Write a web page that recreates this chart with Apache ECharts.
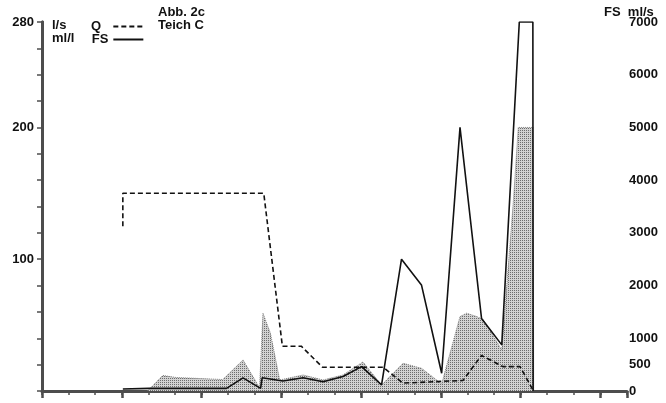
<!DOCTYPE html>
<html>
<head>
<meta charset="utf-8">
<title>Abb. 2c – Teich C</title>
<script src="https://cdn.jsdelivr.net/npm/echarts@6/dist/echarts.min.js"></script>
<style>
  html, body { margin: 0; padding: 0; background: #fff; }
  #chart { width: 666px; height: 403px; }
</style>
</head>
<body>
<div id="chart"></div>
<script>
// Abfluss Q (l/s), linke Achse – [Zeitpunkt, Wert]
const qFlow = [
  [3.04, 125], [3.04, 150], [8.34, 150], [9.04, 34], [9.75, 34],
  [10.55, 18], [12.83, 18], [13.57, 6], [15.83, 8], [16.53, 27],
  [17.33, 18.5], [17.98, 18.5], [18.47, 0.5]
];

// Feststoffe FS (ml/l), linke Achse
const fsConc = [
  [3.04, 1.5], [4.04, 2], [6.94, 2], [7.56, 10], [8.22, 2], [8.28, 10],
  [9.06, 7.6], [9.82, 10], [10.57, 7], [11.32, 11], [12.02, 18.5],
  [12.77, 4.6], [13.52, 100], [14.27, 80.5], [15.03, 13.5], [15.72, 200],
  [16.53, 55], [17.29, 35], [17.95, 280], [18.46, 280], [18.47, 0]
];

// Feststofffracht FS (ml/s), rechte Achse
const fsLoad = [
  [3.97, 0], [4.54, 295], [5.05, 256], [5.92, 237], [6.8, 218], [7.56, 589],
  [8.18, 66], [8.24, 57], [8.31, 1476], [8.59, 1096], [8.94, 209],
  [9.82, 304], [10.57, 209], [11.32, 304], [12.07, 551], [12.77, 114],
  [13.58, 526], [14.27, 431], [14.84, 209], [15.03, 133], [15.72, 1412],
  [15.97, 1476], [16.35, 1412], [16.6, 1349], [17.29, 779], [17.73, 3629],
  [17.91, 5000], [18.47, 5000], [18.49, 0]
];

// beschriftete Teilstriche
const leftTickLabels = [100, 200, 280];
const rightTickLabels = [0, 500, 1000, 2000, 3000, 4000, 5000, 6000, 7000];

// Punktraster für die Frachtfläche
function stipple() {
  const c = document.createElement('canvas');
  c.width = 2; c.height = 2;
  const g = c.getContext('2d');
  g.fillStyle = '#d2d2d2';
  g.fillRect(0, 0, 2, 2);
  g.fillStyle = '#6c6c6c';
  g.fillRect(0, 0, 1, 1);
  return c;
}

const font = '"Liberation Sans", Arial, sans-serif';
const axisColor = '#4d4d4d';
const ink = '#111';

const chart = echarts.init(document.getElementById('chart'), null, { renderer: 'canvas' });

chart.setOption({
  backgroundColor: '#fff',
  animation: false,
  grid: { left: 42, right: 39, top: 22, bottom: 12, containLabel: false },
  legend: {
    data: ['Q', 'FS'],
    orient: 'vertical',
    left: 91,
    top: 20,
    padding: 0,
    align: 'right',
    itemWidth: 30,
    itemHeight: 6,
    itemGap: 0,
    selectedMode: false,
    itemStyle: { opacity: 0 },
    formatter: name => (name === 'Q' ? 'Q  ' : name),
    textStyle: { fontFamily: font, fontWeight: 'bold', fontSize: 13, color: ink, width: 17 }
  },
  xAxis: [
    {
      type: 'value', min: 0, max: 22, interval: 1,
      axisLine: { show: true, lineStyle: { color: axisColor, width: 3 } },
      axisTick: { show: true, length: 4, lineStyle: { color: axisColor, width: 1.5 } },
      axisLabel: { show: false },
      splitLine: { show: false }
    },
    {
      type: 'value', min: 0, max: 22, interval: 3, position: 'bottom',
      axisLine: { show: false },
      axisTick: { show: true, length: 7, lineStyle: { color: axisColor, width: 2.5 } },
      axisLabel: { show: false },
      splitLine: { show: false }
    }
  ],
  yAxis: [
    {
      type: 'value', min: 0, max: 280, interval: 20, position: 'left',
      axisLine: { show: true, lineStyle: { color: axisColor, width: 3 } },
      axisTick: { show: true, length: 5, lineStyle: { color: axisColor, width: 1.5 } },
      axisLabel: {
        margin: 8,
        fontFamily: font, fontWeight: 'bold', fontSize: 13, color: ink,
        formatter: v => leftTickLabels.includes(v) ? String(v) : ''
      },
      splitLine: { show: false }
    },
    {
      type: 'value', min: 0, max: 7000, interval: 500, position: 'right',
      axisLine: { show: true, lineStyle: { color: axisColor, width: 3 } },
      axisTick: { show: true, inside: true, length: 5, lineStyle: { color: axisColor, width: 1.5 } },
      axisLabel: {
        margin: 2,
        fontFamily: font, fontWeight: 'bold', fontSize: 13, color: ink,
        formatter: v => rightTickLabels.includes(v) ? String(v) : ''
      },
      splitLine: { show: false }
    }
  ],
  series: [
    {
      name: 'FS ml/s',
      type: 'line',
      yAxisIndex: 1,
      data: fsLoad,
      symbol: 'none',
      z: 1,
      itemStyle: { color: '#888' },
      lineStyle: { color: '#808080', width: 1, type: 'dotted' },
      areaStyle: { color: { image: stipple(), repeat: 'repeat' }, opacity: 1 }
    },
    {
      name: 'Q',
      type: 'line',
      data: qFlow,
      symbol: 'none',
      z: 3,
      itemStyle: { color: ink },
      lineStyle: { color: ink, width: 1.6, type: [5, 3] }
    },
    {
      name: 'FS',
      type: 'line',
      data: fsConc,
      symbol: 'none',
      z: 4,
      itemStyle: { color: ink },
      lineStyle: { color: ink, width: 1.6 }
    }
  ],
  graphic: [
    { type: 'text', left: 52, top: 19, style: { text: 'l/s', font: 'bold 13px ' + font, fill: ink } },
    { type: 'text', left: 52, top: 32, style: { text: 'ml/l', font: 'bold 13px ' + font, fill: ink } },
    { type: 'text', left: 158, top: 6, style: { text: 'Abb. 2c', font: 'bold 13px ' + font, fill: ink } },
    { type: 'text', left: 158, top: 19, style: { text: 'Teich C', font: 'bold 13px ' + font, fill: ink } },
    { type: 'text', left: 604, top: 6, style: { text: 'FS  ml/s', font: 'bold 13px ' + font, fill: ink } }
  ]
});
</script>
</body>
</html>
